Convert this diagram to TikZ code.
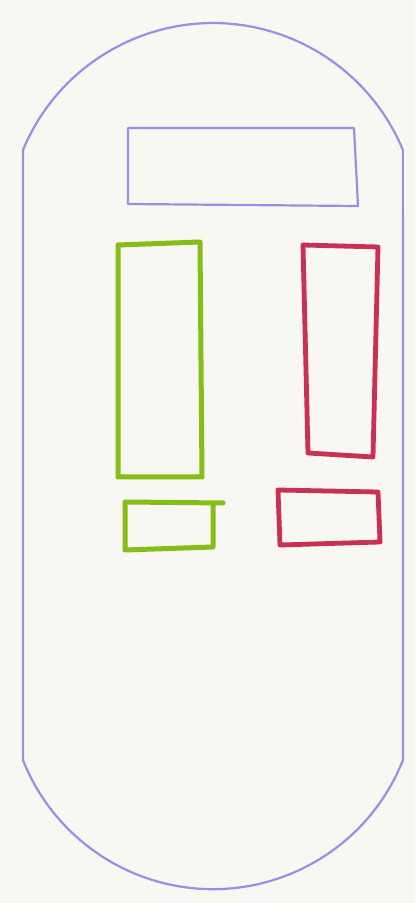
\documentclass[tikz,border=0pt]{standalone}
\usepackage{tikz}
\usetikzlibrary{calc}
\definecolor{paper}{RGB}{248,247,241}
\definecolor{lilac}{RGB}{156,142,228}
\definecolor{lime}{RGB}{132,190,22}
\definecolor{crimson}{RGB}{202,48,82}
\tikzset{
    lilacline/.style={
        line width=0.55mm,
        lilac,
        line join=round
    },
    % marker outlines
    limeline/.style={
        line width=1.25mm,
        lime,
        line join=round,
        line cap=round
    },
    crimsonline/.style={
        line width=1.2mm,
        crimson,
        line join=round,
        line cap=round
    }
}

\begin{document}
\begin{tikzpicture}[x=0.25mm,y=0.25mm]
    \fill[paper] (0,0) rectangle (415,903);
    \useasboundingbox (0,0) rectangle (415,903);
    % ===================== capsule =====================
    \path
    (23,753) coordinate (c1)
    (403,143) coordinate (c2);
    \draw[lilacline] (c1) arc[start angle=157.5, end angle=22.5, radius=205.6]
     -- (c2) arc[start angle=-21.6, end angle=-158.4, radius=204.4] -- cycle;
    \draw[lilacline] (128,775) -- (354,775) -- (358,697) -- (128,699) -- cycle;

    % ===================== left =====================
    \draw[limeline] (118,658) -- (200,661) -- (202,426) -- (118,426) -- cycle;
    \draw[limeline] (223,400) -- (125,401) -- (125,353) -- (213,356) -- (213,400);

    % ===================== right =====================
    \draw[crimsonline] (303,658) -- (378,656) -- (373,446) -- (308,450) -- cycle;
    \draw[crimsonline] (278,413) -- (378,411) -- (380,361) -- (280,358) -- cycle;
\end{tikzpicture}
\end{document}
